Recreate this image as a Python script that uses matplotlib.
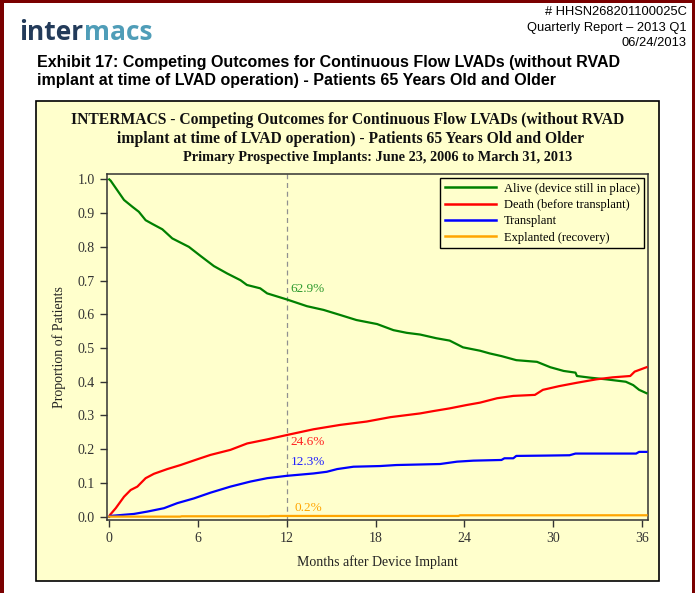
import matplotlib
matplotlib.use("Agg")
import matplotlib.pyplot as plt
from matplotlib.patches import Rectangle

# ---------------- data ----------------
alive_months = [0, 0.1, 1.0, 1.56, 2.0, 2.46, 2.91, 3.59, 4.26, 5.38, 6.17, 7.07, 7.97, 8.87, 9.3,
                10.2, 10.67, 12.0, 13.36, 14.48, 15.6, 16.7, 18.1, 19.2, 20.1, 21.0, 22.1, 23.0,
                23.9, 25.05, 25.7, 26.5, 27.5, 28.9, 29.8, 30.7, 31.5, 31.6, 32.5, 33.6, 34.9,
                35.4, 35.8, 36.3]
alive = [1.0, 0.996, 0.939, 0.919, 0.904, 0.879, 0.868, 0.852, 0.825, 0.800, 0.773, 0.743, 0.721,
         0.701, 0.687, 0.677, 0.662, 0.644, 0.624, 0.613, 0.598, 0.583, 0.571, 0.553, 0.545,
         0.540, 0.529, 0.522, 0.502, 0.492, 0.484, 0.476, 0.464, 0.459, 0.443, 0.432, 0.427,
         0.417, 0.412, 0.407, 0.400, 0.390, 0.376, 0.366]

death_months = [0, 0.05, 0.44, 1.0, 1.45, 1.9, 2.46, 3.02, 3.92, 4.82, 5.95, 6.84, 8.19, 9.32,
                10.67, 12.0, 13.8, 15.6, 17.4, 19.0, 21.0, 21.9, 23.0, 24.15, 25.05, 26.2, 27.3,
                28.76, 29.3, 30.4, 31.6, 32.9, 34.0, 35.2, 35.5, 36.3]
death = [0, 0.005, 0.025, 0.059, 0.079, 0.089, 0.114, 0.127, 0.141, 0.153, 0.170, 0.183, 0.198,
         0.217, 0.229, 0.242, 0.259, 0.272, 0.282, 0.295, 0.306, 0.313, 0.321, 0.331, 0.338,
         0.351, 0.358, 0.361, 0.376, 0.387, 0.397, 0.407, 0.413, 0.417, 0.430, 0.443]

tx_months = [0, 0.05, 1.67, 2.58, 3.7, 4.6, 5.72, 6.84, 8.19, 9.54, 10.67, 12.0, 13.8, 14.7,
             15.4, 16.5, 18.3, 19.4, 22.35, 23.5, 24.6, 26.5, 26.7, 27.3, 27.5, 29.5, 31.1,
             31.5, 35.6, 35.8, 36.3]
transplant = [0, 0.002, 0.008, 0.015, 0.025, 0.040, 0.054, 0.071, 0.089, 0.104, 0.114, 0.121,
              0.128, 0.133, 0.141, 0.148, 0.150, 0.153, 0.156, 0.163, 0.166, 0.168, 0.173,
              0.173, 0.180, 0.181, 0.182, 0.187, 0.187, 0.192, 0.192]

explant_months = [0, 4.8, 4.9, 10.8, 10.9, 23.6, 23.7, 36.3]
explant = [0, 0, 0.001, 0.001, 0.002, 0.002, 0.004, 0.004]

series_labels = ["Alive (device still in place)", "Death (before transplant)",
                 "Transplant", "Explanted (recovery)"]
series_colors = ["#008000", "#FF0000", "#0000FF", "#FFA500"]

x_ticks = [0, 6, 12, 18, 24, 30, 36]
y_ticks = [0.0, 0.1, 0.2, 0.3, 0.4, 0.5, 0.6, 0.7, 0.8, 0.9, 1.0]

marker_month = 12
marker_labels = ["62.9%", "24.6%", "12.3%", "0.2%"]
marker_label_y = [0.674, 0.222, 0.163, 0.025]
marker_label_colors = ["#2E9A2E", "#FF2020", "#2020FF", "#FFA500"]

# ---------------- figure ----------------
W, H = 695, 593
fig = plt.figure(figsize=(W / 100, H / 100), dpi=100)
fig.patch.set_facecolor("white")


def fx(x):
    return x / W


def fy(y):
    return 1 - y / H


SERIF = ["Liberation Serif", "DejaVu Serif"]
SANS = ["Liberation Sans", "DejaVu Sans"]
YELLOW = "#FFFFCC"

# dark red page border
for rect in [(0, 0, 4, H), (W - 3, 0, 3, H), (0, 0, W, 3)]:
    x, y, w, h = rect
    fig.add_artist(Rectangle((fx(x), fy(y + h)), w / W, h / H, transform=fig.transFigure,
                             facecolor="#7A0000", edgecolor="none", zorder=0))

# logo
renderer = fig.canvas.get_renderer()
t_inter = fig.text(fx(19), fy(33), "inter", fontsize=19, fontweight="bold",
                   family=["Open Sans", "DejaVu Sans"], color="#233B5A", ha="left", va="center")
bb = t_inter.get_window_extent(renderer=renderer)
fig.text(bb.x1 / W + 0.5 / W, fy(33), "macs", fontsize=19, fontweight="bold",
         family=["Open Sans", "DejaVu Sans"], color="#4F9DB8", ha="left", va="center")

# header right
for txt, yy in [("# HHSN268201100025C", 12), ("Quarterly Report \u2013 2013 Q1", 28), ("06/24/2013", 43)]:
    fig.text(fx(687), fy(yy), txt, fontsize=9.3, family=SANS, color="black", ha="right", va="center")

# exhibit title
fig.text(fx(37), fy(62), "Exhibit 17: Competing Outcomes for Continuous Flow LVADs (without RVAD",
         fontsize=11.5, fontweight="bold", family=SANS, ha="left", va="center")
fig.text(fx(37), fy(80), "implant at time of LVAD operation) - Patients 65 Years Old and Older",
         fontsize=11.5, fontweight="bold", family=SANS, ha="left", va="center")

# yellow panel
fig.add_artist(Rectangle((fx(36), fy(581)), (659 - 36) / W, (581 - 101) / H, transform=fig.transFigure,
                         facecolor=YELLOW, edgecolor="black", linewidth=1.2, zorder=0.5))

# panel titles
fig.text(fx(348), fy(120), "INTERMACS - Competing Outcomes for Continuous Flow LVADs (without RVAD",
         fontsize=11.25, fontweight="bold", family=SERIF, ha="center", va="center", color="#111111")
fig.text(fx(351), fy(139), "implant at time of LVAD operation) - Patients 65 Years Old and Older",
         fontsize=11.25, fontweight="bold", family=SERIF, ha="center", va="center", color="#111111")
fig.text(fx(378), fy(157), "Primary Prospective Implants: June 23, 2006 to March 31, 2013",
         fontsize=10.3, fontweight="bold", family=SERIF, ha="center", va="center", color="#111111")

# axes
ax_l, ax_r, ax_t, ax_b = 107, 648, 174, 520
ax = fig.add_axes([fx(ax_l), fy(ax_b), (ax_r - ax_l) / W, (ax_b - ax_t) / H])
ax.set_facecolor(YELLOW)
ax.set_zorder(2)

all_x = [alive_months, death_months, tx_months, explant_months]
all_y = [alive, death, transplant, explant]
for xs, ys, lab, col in zip(all_x, all_y, series_labels, series_colors):
    ax.plot(xs, ys, color=col, linewidth=1.6, label=lab, solid_joinstyle="round", zorder=3)

ax.axvline(marker_month, color="#909090", linestyle=(0, (4, 3)), linewidth=0.9, zorder=2)

for txt, yv, col in zip(marker_labels, marker_label_y, marker_label_colors):
    xoff = 0.25 if txt != "0.2%" else 0.5
    ax.text(marker_month + xoff, yv, txt, color=col, fontsize=9.5, family=SERIF,
            ha="left", va="center", zorder=4)

ax.set_xlim(-0.15, 36.4)
ax.set_ylim(-0.01, 1.016)
ax.set_xticks(x_ticks)
ax.set_xticklabels([str(t) for t in x_ticks])
ax.set_yticks(y_ticks)
ax.set_yticklabels([f"{t:.1f}" for t in y_ticks])
for lab in ax.get_xticklabels() + ax.get_yticklabels():
    lab.set_fontfamily(SERIF)
    lab.set_fontsize(10)
    lab.set_color("#333333")
ax.tick_params(direction="out", length=5, width=1, color="#333333", pad=4)
for sp in ax.spines.values():
    sp.set_color("#333333")
    sp.set_linewidth(1.1)

ax.set_xlabel("Months after Device Implant", family=SERIF, fontsize=10, color="#222222", labelpad=7)
ax.set_ylabel("Proportion of Patients", family=SERIF, fontsize=10, color="#222222", labelpad=8)

leg = ax.legend(loc="upper right", bbox_to_anchor=(0.9925, 0.988), borderaxespad=0, frameon=True,
                fancybox=False, edgecolor="black", facecolor=YELLOW, framealpha=1,
                prop={"family": SERIF, "size": 9}, handlelength=4.1, handletextpad=0.6,
                labelspacing=0.35, borderpad=0.35)
leg.get_frame().set_linewidth(1.0)
for ln in leg.get_lines():
    ln.set_linewidth(1.8)

fig.savefig("out.png", dpi=100, facecolor=fig.get_facecolor())
